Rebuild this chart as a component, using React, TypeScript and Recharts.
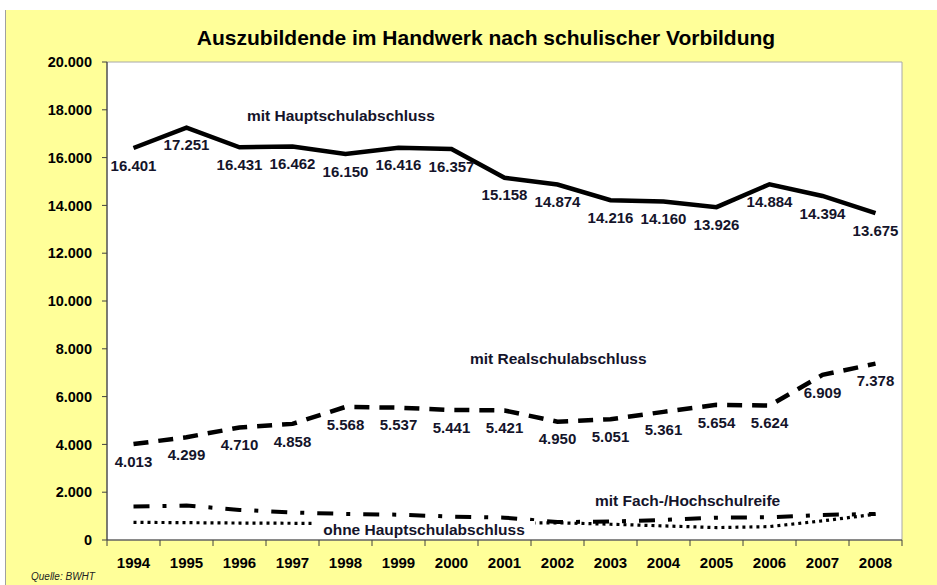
import {
  Line,
  LineChart,
  LabelList,
  ReferenceArea,
  XAxis,
  YAxis,
} from "recharts";

const years = [
  1994, 1995, 1996, 1997, 1998, 1999, 2000, 2001, 2002, 2003, 2004, 2005,
  2006, 2007, 2008,
];

const hauptschul = [
  16401, 17251, 16431, 16462, 16150, 16416, 16357, 15158, 14874, 14216, 14160,
  13926, 14884, 14394, 13675,
];
const realschul = [
  4013, 4299, 4710, 4858, 5568, 5537, 5441, 5421, 4950, 5051, 5361, 5654, 5624,
  6909, 7378,
];
// estimated, not labelled in the picture
const hochschulreife = [
  1400, 1440, 1260, 1150, 1090, 1060, 980, 935, 750, 770, 840, 935, 950, 1050,
  1090,
];
const ohneAbschluss = [
  740, 725, 710, 700, 690, 680, 690, 700, 720, 660, 590, 520, 560, 800, 1080,
];

const yTicks = [0, 2000, 4000, 6000, 8000, 10000, 12000, 14000, 16000, 18000, 20000];

const data = years.map((year, i) => ({
  year,
  haupt: hauptschul[i],
  real: realschul[i],
  hoch: hochschulreife[i],
  ohne: ohneAbschluss[i],
}));

// integer ticks carry the year labels, half ticks carry the tick marks
const xTicks = [years[0] - 0.5, ...years.flatMap((y) => [y, y + 0.5])];

const FONT = "'Liberation Sans', Arial, sans-serif";
const LABEL_COLOR = "#14142a";
const AXIS_COLOR = "#404040";

const de = (v: number) =>
  String(Math.round(v)).replace(/\B(?=(\d{3})+(?!\d))/g, ".");

const YearTick = ({ x, y, payload }: any) => {
  const v = payload.value as number;
  if (Number.isInteger(v)) {
    return (
      <text
        x={x}
        y={y + 28}
        textAnchor="middle"
        fontSize={15}
        fontWeight={700}
        fontFamily={FONT}
        fill="#000"
      >
        {v}
      </text>
    );
  }
  return <line x1={x} x2={x} y1={y} y2={y + 6} stroke={AXIS_COLOR} strokeWidth={1} />;
};

const labelStyle = {
  fill: LABEL_COLOR,
  fontSize: 15,
  fontWeight: 700,
  fontFamily: FONT,
};

const seriesLabel = {
  position: "absolute" as const,
  fontSize: 15.5,
  fontWeight: 700,
  color: LABEL_COLOR,
  whiteSpace: "nowrap" as const,
  lineHeight: "18px",
};

export default function App() {
  return (
    <div
      style={{
        position: "absolute",
        left: 0,
        top: 0,
        width: 937,
        height: 585,
        background: "#fff",
        overflow: "hidden",
        fontFamily: FONT,
      }}
    >
      <div
        style={{
          position: "absolute",
          left: 5,
          top: 10,
          right: 0,
          bottom: 0,
          background: "#FFFF99",
          borderLeft: "1px solid #a0a0a0",
        }}
      />
      <div
        style={{
          position: "absolute",
          left: 186,
          top: 25,
          width: 600,
          textAlign: "center",
          fontSize: 21,
          fontWeight: 700,
          color: "#000",
          lineHeight: "26px",
        }}
      >
        Auszubildende im Handwerk nach schulischer Vorbildung
      </div>

      <div style={{ position: "absolute", left: 0, top: 0 }}>
        <LineChart
          width={937}
          height={585}
          data={data}
          margin={{ top: 62, right: 35, left: 0, bottom: 0 }}
        >
          <XAxis
            dataKey="year"
            type="number"
            domain={[1993.5, 2008.5]}
            ticks={xTicks}
            interval={0}
            tickLine={false}
            tickSize={0}
            tickMargin={0}
            height={45}
            axisLine={{ stroke: AXIS_COLOR, strokeWidth: 1.2 }}
            tick={YearTick}
            allowDataOverflow
          />
          <YAxis
            domain={[0, 20000]}
            ticks={yTicks}
            interval={0}
            width={107}
            tickSize={5}
            tickMargin={10}
            tickFormatter={de}
            axisLine={{ stroke: AXIS_COLOR, strokeWidth: 1.2 }}
            tickLine={{ stroke: AXIS_COLOR }}
            tick={{
              fill: "#000",
              fontSize: 14.5,
              fontWeight: 700,
              fontFamily: FONT,
            }}
          />
          <ReferenceArea
            x1={1993.5}
            x2={2008.5}
            y1={0}
            y2={20000}
            fill="#fff"
            fillOpacity={1}
            stroke="#a8a8a8"
            strokeWidth={1}
          />
          <Line
            dataKey="ohne"
            type="linear"
            stroke="#000"
            strokeWidth={3.2}
            strokeDasharray="3 4"
            dot={false}
            isAnimationActive={false}
          />
          <Line
            dataKey="hoch"
            type="linear"
            stroke="#000"
            strokeWidth={4}
            strokeDasharray="16 13 4 13"
            dot={false}
            isAnimationActive={false}
          />
          <Line
            dataKey="real"
            type="linear"
            stroke="#000"
            strokeWidth={4.5}
            strokeDasharray="15 10"
            dot={false}
            isAnimationActive={false}
          >
            <LabelList
              dataKey="real"
              position="bottom"
              offset={12}
              formatter={de}
              style={labelStyle}
            />
          </Line>
          <Line
            dataKey="haupt"
            type="linear"
            stroke="#000"
            strokeWidth={4.5}
            dot={false}
            isAnimationActive={false}
          >
            <LabelList
              dataKey="haupt"
              position="bottom"
              offset={12}
              formatter={de}
              style={labelStyle}
            />
          </Line>
        </LineChart>
      </div>

      <div style={{ ...seriesLabel, left: 247, top: 107 }}>mit Hauptschulabschluss</div>
      <div style={{ ...seriesLabel, left: 470, top: 350 }}>mit Realschulabschluss</div>
      <div style={{ ...seriesLabel, left: 595, top: 492 }}>mit Fach-/Hochschulreife</div>
      <div
        style={{
          ...seriesLabel,
          left: 313,
          top: 521,
          width: 222,
          height: 18,
          textAlign: "center",
          background: "#fff",
        }}
      >
        ohne Hauptschulabschluss
      </div>

      <div
        style={{
          position: "absolute",
          left: 31,
          top: 571,
          fontSize: 10,
          lineHeight: "12px",
          fontStyle: "italic",
          color: "#222",
          whiteSpace: "nowrap",
        }}
      >
        Quelle: BWHT
      </div>
    </div>
  );
}
